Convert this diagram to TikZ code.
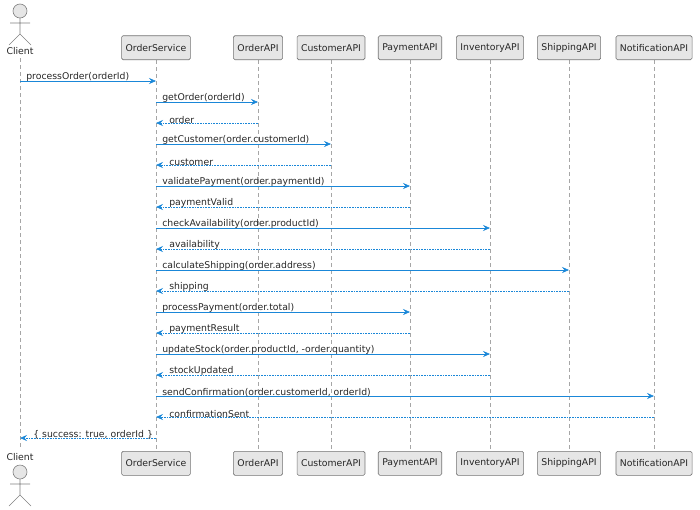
\documentclass[tikz,border=0pt]{standalone}
\usepackage{fontspec}
\setmainfont{DejaVu Sans}
\usetikzlibrary{arrows.meta}
\definecolor{msgblue}{HTML}{1A87D8}
\definecolor{boxgray}{HTML}{E6E6E6}
\tikzset{
  part/.style={draw=black!55, fill=boxgray, rounded corners=1.5pt, minimum height=24pt, inner xsep=4pt, font=\fontsize{9.3}{10}\selectfont, text=black!85},
  life/.style={black!35, dashed, dash pattern=on 4pt off 3pt},
  call/.style={msgblue, -{Stealth[length=7pt,width=6pt,inset=2.5pt]}},
  reply/.style={msgblue, densely dotted, -{Stealth[length=7pt,width=6pt,inset=2.5pt]}},
  lbl/.style={font=\fontsize{9.3}{10}\selectfont, text=black!85, anchor=south west, inner sep=1pt},
  stick/.style={draw=black!50, fill=boxgray}
}
\begin{document}
\begin{tikzpicture}[x=1pt,y=-1pt,line width=0.6pt]
      \useasboundingbox (0,0) rectangle (700,509);
      % lifelines and participant boxes
      \foreach \n/\x in {ordsvc/156,ordapi/258,custapi/331,payapi/410,invapi/490,shipapi/569,notapi/654}{
        \coordinate (\n) at (\x,60);
        \coordinate (\n-end) at (\x,451);
        \draw[life] (\n) -- (\n-end);
      }
      \coordinate (client) at (20,58);
      \coordinate (client-end) at (20,449);
      \draw[life] (client) -- (client-end);
      \foreach \n/\t in {ordsvc/OrderService,ordapi/OrderAPI,custapi/CustomerAPI,payapi/PaymentAPI,invapi/InventoryAPI,shipapi/ShippingAPI,notapi/NotificationAPI}{
        \node[part, anchor=south] (\n-top) at (\n) {\t};
        \node[part, anchor=north] (\n-bot) at (\n-end) {\t};
      }
      % actor at top
      \draw[stick] (20,11) circle (7);
      \draw[black!50] (20,18) -- (20,34) (10,23) -- (30,23) (9,45) -- (20,34) -- (31,45);
      \node[font=\fontsize{9.3}{10}\selectfont, text=black!85] (client-top) at (20,51) {Client};
      % actor at bottom
      \node[font=\fontsize{9.3}{10}\selectfont, text=black!85] (client-bot) at (20,457) {Client};
      \draw[stick] (20,472) circle (7);
      \draw[black!50] (20,479) -- (20,495) (10,484) -- (30,484) (9,506) -- (20,495) -- (31,506);
      % messages
      \foreach \y/\s/\d/\k/\m [count=\i] in {
        81/client/ordsvc/call/processOrder(orderId),
        102/ordsvc/ordapi/call/getOrder(orderId),
        123/ordapi/ordsvc/reply/order,
        144/ordsvc/custapi/call/getCustomer(order.customerId),
        165/custapi/ordsvc/reply/customer,
        186/ordsvc/payapi/call/validatePayment(order.paymentId),
        207/payapi/ordsvc/reply/paymentValid,
        228/ordsvc/invapi/call/checkAvailability(order.productId),
        249/invapi/ordsvc/reply/availability,
        270/ordsvc/shipapi/call/calculateShipping(order.address),
        291/shipapi/ordsvc/reply/shipping,
        312/ordsvc/payapi/call/processPayment(order.total),
        333/payapi/ordsvc/reply/paymentResult,
        354/ordsvc/invapi/call/{updateStock(order.productId, -order.quantity)},
        375/invapi/ordsvc/reply/stockUpdated,
        396/ordsvc/notapi/call/{sendConfirmation(order.customerId, orderId)},
        417/notapi/ordsvc/reply/confirmationSent,
        438/ordsvc/client/reply/{\{ success: true, orderId \}}}{
        \coordinate (m\i-a) at (\s |- 0,\y);
        \coordinate (m\i-b) at (\d |- 0,\y);
        \draw[\k] (m\i-a) -- (m\i-b);
        \ifnum\pdfstrcmp{\k}{call}=0
          \node[lbl] (t\i) at ([xshift=5pt,yshift=-2pt]m\i-a) {\m};
        \else
          \node[lbl] (t\i) at ([xshift=12pt,yshift=-2pt]m\i-b) {\m};
        \fi
      }
\end{tikzpicture}
\end{document}
